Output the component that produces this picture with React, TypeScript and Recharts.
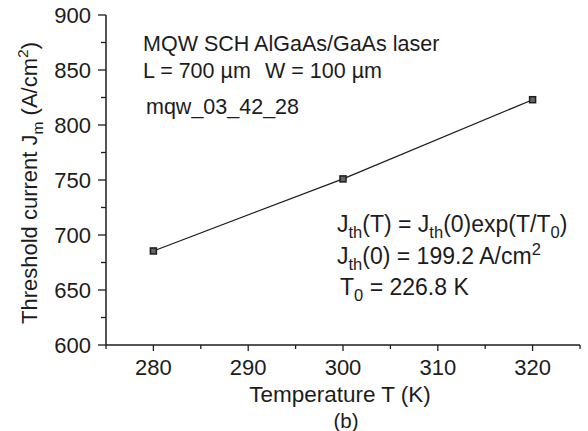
import React from "react";
import { LineChart, Line, XAxis, YAxis, Customized } from "recharts";

// measured points
const temperatures = [280, 300, 320];
const thresholdCurrent = [685.5, 751, 823];

const xTicks = [275, 280, 285, 290, 295, 300, 305, 310, 315, 320, 325];
const yTicks = [600, 625, 650, 675, 700, 725, 750, 775, 800, 825, 850, 875, 900];

const data = temperatures.map((t, i) => ({ t, j: thresholdCurrent[i] }));

const INK = "#1c1c1c";
const FONT = "'Liberation Sans', Arial, Helvetica, sans-serif";

const XTick = ({ x, y, payload }: any) => {
  const major = payload.value % 10 === 0;
  return (
    <g>
      <line x1={x} x2={x} y1={y} y2={y + (major ? 6 : 4)} stroke={INK} strokeWidth={1.3} />
      {major && (
        <text x={x} y={y + 30} textAnchor="middle" fontFamily={FONT} fontSize={22} fill={INK}>
          {payload.value}
        </text>
      )}
    </g>
  );
};

const YTick = ({ x, y, payload }: any) => {
  const major = payload.value % 50 === 0;
  return (
    <g>
      <line x1={x - (major ? 8 : 5)} x2={x} y1={y} y2={y} stroke={INK} strokeWidth={1.3} />
      {major && (
        <text x={x - 15} y={y + 8} textAnchor="end" fontFamily={FONT} fontSize={22} fill={INK}>
          {payload.value}
        </text>
      )}
    </g>
  );
};

const SquareDot = (p: any) => (
  <rect
    key={`dot-${p.index}`}
    x={p.cx - 3}
    y={p.cy - 3}
    width={6}
    height={6}
    fill="#666"
    stroke={INK}
    strokeWidth={1.5}
  />
);

const Notes = () => (
  <g fontFamily={FONT} fill={INK} fontSize={21.5}>
    <text x={143} y={51}>MQW SCH AlGaAs/GaAs laser</text>
    <text x={143} y={78}>L = 700 µm</text>
    <text x={265} y={78}>W = 100 µm</text>
    <text x={146} y={114}>mqw_03_42_28</text>

    <g fontSize={23}>
      <text x={337} y={232}>
        J<tspan dy={6} fontSize={16.5}>th</tspan>
        <tspan dy={-6}>(T) = J</tspan>
        <tspan dy={6} fontSize={16.5}>th</tspan>
        <tspan dy={-6}>(0)exp(T/T</tspan>
        <tspan dy={6} fontSize={16.5}>0</tspan>
        <tspan dy={-6}>)</tspan>
      </text>
      <text x={337} y={264}>
        J<tspan dy={6} fontSize={16.5}>th</tspan>
        <tspan dy={-6}>(0) = 199.2 A/cm</tspan>
        <tspan dy={-9} fontSize={16.5}>2</tspan>
      </text>
      <text x={340} y={295}>
        T<tspan dy={6} fontSize={16.5}>0</tspan>
        <tspan dy={-6}> = 226.8 K</tspan>
      </text>
    </g>

    <text x={340} y={402} textAnchor="middle" fontSize={22.5}>Temperature T (K)</text>
    <text x={346} y={428} textAnchor="middle" fontSize={20.5}>(b)</text>

    <text transform="translate(37, 183) rotate(-90)" textAnchor="middle" fontSize={22}>
      Threshold current J<tspan dy={6} fontSize={15.5}>m</tspan>
      <tspan dy={-6}> (A/cm</tspan>
      <tspan dy={-9} fontSize={15.5}>2</tspan>
      <tspan dy={9}>)</tspan>
    </text>
  </g>
);

export default function App() {
  return (
    <div style={{ position: "absolute", left: 0, top: 0, width: 588, height: 431, background: "#fff" }}>
      <LineChart width={588} height={431} data={data} margin={{ top: 15, right: 8, bottom: 0, left: 0 }}>
        <XAxis
          dataKey="t"
          type="number"
          domain={[275, 325]}
          ticks={xTicks}
          interval={0}
          height={86}
          tickSize={0}
          tickMargin={0}
          tick={<XTick />}
          stroke={INK}
          strokeWidth={1.5}
          allowDataOverflow
        />
        <YAxis
          type="number"
          domain={[600, 900]}
          ticks={yTicks}
          interval={0}
          width={106}
          tickSize={0}
          tickMargin={0}
          tick={<YTick />}
          stroke={INK}
          strokeWidth={1.5}
          allowDataOverflow
        />
        <Line
          dataKey="j"
          type="linear"
          stroke={INK}
          strokeWidth={1.2}
          dot={SquareDot}
          isAnimationActive={false}
        />
        <Customized component={Notes} />
      </LineChart>
    </div>
  );
}
